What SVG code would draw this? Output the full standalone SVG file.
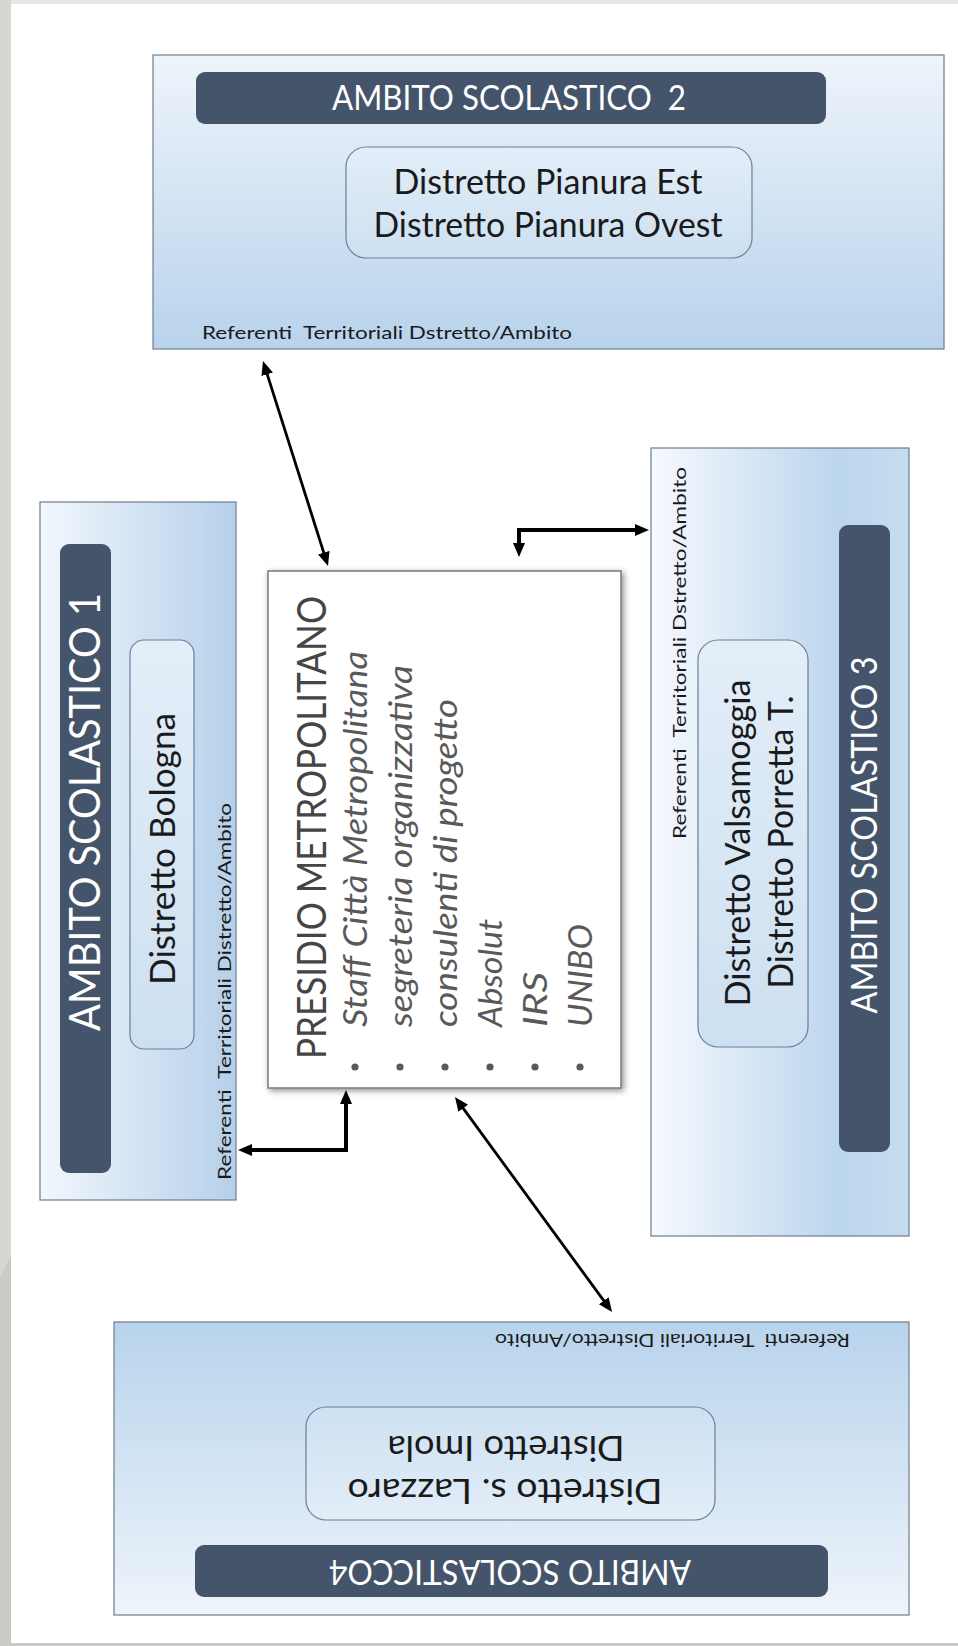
<svg xmlns="http://www.w3.org/2000/svg" width="958" height="1646" viewBox="0 0 958 1646">
<style>
.frame{stroke:#6f7c8a;stroke-width:1.2}
.bar{fill:#44546a}
.inner{fill:url(#gIn);stroke:#6a7f99;stroke-width:1.2}
.hdr{font-family:Lato,"Open Sans",sans-serif;fill:#ffffff}
.dist{font-family:Lato,"Open Sans",sans-serif;fill:#1a1a1a;font-size:35px;text-anchor:middle}
.ref{font-family:Lato,"Open Sans",sans-serif;fill:#1a1a1a;font-size:17px}
.pres{font-family:Lato,"Open Sans",sans-serif;fill:#454545;font-size:40px}
.item{font-family:Lato,"Open Sans",sans-serif;fill:#595959;font-size:32px;font-style:italic}
.bul{fill:#595959}
.conn{fill:none;stroke:#000;stroke-linejoin:miter}
</style>
<defs>
<linearGradient id="gV" x1="0" y1="0" x2="0" y2="1"><stop offset="0" stop-color="#eef4fb"/><stop offset="1" stop-color="#b8d3ec"/></linearGradient>
<linearGradient id="gH" x1="0" y1="0" x2="1" y2="0"><stop offset="0" stop-color="#f2f7fc"/><stop offset="1" stop-color="#b5d0ea"/></linearGradient>
<linearGradient id="gH3" x1="0" y1="0" x2="1" y2="0"><stop offset="0" stop-color="#f6f9fd"/><stop offset="0.72" stop-color="#bcd6ee"/><stop offset="1" stop-color="#c6dcf0"/></linearGradient>
<linearGradient id="gIn" x1="0" y1="0" x2="0" y2="1"><stop offset="0" stop-color="#e3eef8"/><stop offset="1" stop-color="#cde0f1"/></linearGradient>
<filter id="sh" x="-10%" y="-10%" width="120%" height="120%"><feDropShadow dx="2" dy="2" stdDeviation="3" flood-color="#000" flood-opacity="0.45"/></filter>
<marker id="ah" markerUnits="userSpaceOnUse" markerWidth="16" markerHeight="14" refX="8" refY="6" orient="auto-start-reverse"><path d="M0,0 L14,6 L0,12 z" fill="#000"/></marker>
</defs>
<rect x="0" y="0" width="958" height="1646" fill="#ffffff"/>
<rect x="0" y="0" width="958" height="4" fill="#e6e6e4"/>
<rect x="0" y="0" width="11" height="1646" fill="#cbcbc6"/>
<polygon points="0,0 11,0 11,1255 0,1278" fill="#d6d6d3"/>
<rect x="0" y="1643" width="958" height="3" fill="#cbcbc6"/>

<g id="ambito2">
<rect class="frame" x="153" y="55" width="791" height="294" fill="url(#gV)"/>
<rect class="bar" x="196" y="72" width="630" height="52" rx="9"/>
<text class="hdr" x="509" y="110" font-size="34" text-anchor="middle" textLength="354" lengthAdjust="spacingAndGlyphs" xml:space="preserve">AMBITO SCOLASTICO  2</text>
<rect class="inner" x="346" y="147" width="406" height="111" rx="20"/>
<text class="dist" x="548" y="194" textLength="309" lengthAdjust="spacingAndGlyphs">Distretto Pianura Est</text>
<text class="dist" x="548" y="237" textLength="349" lengthAdjust="spacingAndGlyphs">Distretto Pianura Ovest</text>
<text class="ref" x="202" y="339" textLength="370" lengthAdjust="spacingAndGlyphs" xml:space="preserve">Referenti  Territoriali Dstretto/Ambito</text>
</g>

<g id="ambito1">
<rect class="frame" x="40" y="502" width="196" height="698" fill="url(#gH)"/>
<rect class="bar" x="60" y="544" width="51" height="629" rx="9"/>
<text class="hdr" transform="translate(100,812) rotate(-90)" font-size="42" text-anchor="middle" textLength="438" lengthAdjust="spacingAndGlyphs">AMBITO SCOLASTICO 1</text>
<rect class="inner" x="130" y="640" width="64" height="409" rx="14"/>
<text class="dist" transform="translate(175,849) rotate(-90)" font-size="37" textLength="272" lengthAdjust="spacingAndGlyphs">Distretto Bologna</text>
<text class="ref" transform="translate(231,1180) rotate(-90)" textLength="377" lengthAdjust="spacingAndGlyphs" xml:space="preserve">Referenti  Territoriali Distretto/Ambito</text>
</g>

<g id="ambito3">
<rect class="frame" x="651" y="448" width="258" height="788" fill="url(#gH3)"/>
<rect class="bar" x="839" y="525" width="51" height="627" rx="9"/>
<text class="hdr" transform="translate(877,835) rotate(-90)" font-size="37" text-anchor="middle" textLength="357" lengthAdjust="spacingAndGlyphs">AMBITO SCOLASTICO 3</text>
<rect class="inner" x="698" y="640" width="110" height="407" rx="20"/>
<text class="dist" transform="translate(750,843) rotate(-90)" textLength="327" lengthAdjust="spacingAndGlyphs">Distretto Valsamoggia</text>
<text class="dist" transform="translate(793,842) rotate(-90)" textLength="293" lengthAdjust="spacingAndGlyphs">Distretto Porretta T.</text>
<text class="ref" transform="translate(686,839) rotate(-90)" textLength="372" lengthAdjust="spacingAndGlyphs" xml:space="preserve">Referenti  Territoriali Dstretto/Ambito</text>
</g>

<g id="ambito4">
<rect class="frame" x="114" y="1322" width="795" height="293" fill="url(#gV)" transform="rotate(180 511.5 1468.5)"/>
<g transform="rotate(180 511.5 1468.5)">
<rect class="bar" x="195" y="1340" width="633" height="52" rx="9"/>
<text class="hdr" x="513" y="1377" font-size="34" text-anchor="middle" textLength="362" lengthAdjust="spacingAndGlyphs">AMBITO SCOLASTICCO4</text>
<rect class="inner" x="308" y="1417" width="409" height="113" rx="20"/>
<text class="dist" x="518" y="1458" textLength="315" lengthAdjust="spacingAndGlyphs">Distretto s. Lazzaro</text>
<text class="dist" x="517" y="1501" textLength="237" lengthAdjust="spacingAndGlyphs">Distretto Imola</text>
<text class="ref" x="173" y="1603" textLength="355" lengthAdjust="spacingAndGlyphs" xml:space="preserve">Referenti  Territoriali Distretto/Ambito</text>
</g>
</g>

<g id="presidio">
<rect x="268" y="571" width="353" height="517" fill="#ffffff" stroke="#7a7a7a" stroke-width="1.5" filter="url(#sh)"/>
<text class="pres" transform="translate(326,1059) rotate(-90)" textLength="463" lengthAdjust="spacingAndGlyphs">PRESIDIO METROPOLITANO</text>
<circle class="bul" cx="355" cy="1067" r="3.6"/>
<circle class="bul" cx="400" cy="1067" r="3.6"/>
<circle class="bul" cx="445" cy="1067" r="3.6"/>
<circle class="bul" cx="490" cy="1067" r="3.6"/>
<circle class="bul" cx="535" cy="1067" r="3.6"/>
<circle class="bul" cx="580" cy="1067" r="3.6"/>
<text class="item" transform="translate(367,1027) rotate(-90)" textLength="376" lengthAdjust="spacingAndGlyphs">Staff Città Metropolitana</text>
<text class="item" transform="translate(412,1027) rotate(-90)" textLength="362" lengthAdjust="spacingAndGlyphs">segreteria organizzativa</text>
<text class="item" transform="translate(457,1027) rotate(-90)" textLength="328" lengthAdjust="spacingAndGlyphs">consulenti di progetto</text>
<text class="item" transform="translate(502,1027) rotate(-90)" textLength="108" lengthAdjust="spacingAndGlyphs">Absolut</text>
<text class="item" transform="translate(547,1027) rotate(-90)" textLength="55" lengthAdjust="spacingAndGlyphs">IRS</text>
<text class="item" transform="translate(592,1027) rotate(-90)" textLength="103" lengthAdjust="spacingAndGlyphs">UNIBO</text>
</g>

<g id="connectors">
<path class="conn" d="M264.8,366.7 L326.2,560.3" stroke-width="2.8" marker-start="url(#ah)" marker-end="url(#ah)"/>
<path class="conn" d="M519,551 L519,530 L643,530" stroke-width="4" marker-start="url(#ah)" marker-end="url(#ah)"/>
<path class="conn" d="M244,1150 L346,1150 L346,1096" stroke-width="4" marker-start="url(#ah)" marker-end="url(#ah)"/>
<path class="conn" d="M458.5,1101.8 L608.5,1307.2" stroke-width="2.8" marker-start="url(#ah)" marker-end="url(#ah)"/>
</g>
</svg>
